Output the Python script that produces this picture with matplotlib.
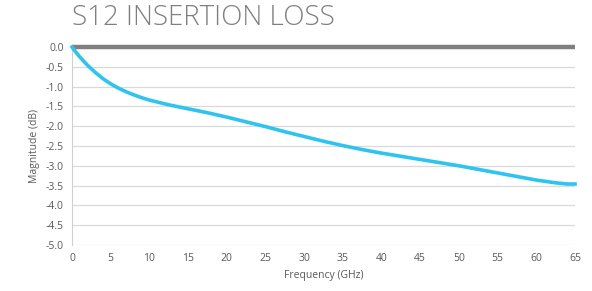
import matplotlib
matplotlib.use('Agg')
import matplotlib.pyplot as plt

# Insertion loss curve
freq_ghz = [0, 0.5, 1, 2, 3, 4, 5, 6, 7, 8, 9, 10, 12.5, 15, 17.5, 20, 22.5, 25, 27.5, 30,
            32.5, 35, 37.5, 40, 42.5, 45, 47.5, 50, 52.5, 55, 57.5, 60, 62.5, 64, 65]
s12_db = [0.0, -0.13, -0.25, -0.46, -0.64, -0.8, -0.93, -1.04, -1.13, -1.21, -1.28,
          -1.34, -1.46, -1.56, -1.66, -1.77, -1.89, -2.01, -2.14, -2.26, -2.38, -2.49,
          -2.59, -2.68, -2.76, -2.84, -2.92, -3.0, -3.09, -3.18, -3.27, -3.36, -3.43,
          -3.46, -3.46]
ref_db = [0.0, 0.0]
ref_freq = [0, 65]

x_ticks = list(range(0, 66, 5))
y_ticks = [0.0, -0.5, -1.0, -1.5, -2.0, -2.5, -3.0, -3.5, -4.0, -4.5, -5.0]

plt.rcParams['font.family'] = ['Open Sans', 'DejaVu Sans']

fig = plt.figure(figsize=(5.92, 2.91), dpi=100)
ax = fig.add_axes([72/592, 1 - 245/291, (575 - 72)/592, (245 - 47)/291])

ax.plot(ref_freq, ref_db, color='#808080', lw=3.2, solid_capstyle='butt', zorder=3, clip_on=False)
ax.plot(freq_ghz, s12_db, color='#2ec4ef', lw=2.6, zorder=4, clip_on=False)

ax.set_xlim(0, 65)
ax.set_ylim(-5.0, 0.0)
ax.set_xticks(x_ticks)
ax.set_yticks(y_ticks)
ax.set_yticklabels([f'{v:.1f}' for v in y_ticks])
ax.grid(axis='y', color='#d9d9d9', lw=0.9)
ax.set_axisbelow(True)
for s in ['top', 'right', 'bottom']:
    ax.spines[s].set_visible(False)
ax.spines['left'].set_color('#d0d0d0')
ax.tick_params(length=0, labelsize=7.5, colors='#595959', pad=6)
ax.set_xlabel('Frequency (GHz)', fontsize=7.5, color='#595959', labelpad=4)
ax.set_ylabel('Magnitude (dB)', fontsize=7.5, color='#595959', labelpad=4)

fig.text(72/592, 1 - 18/291, 'S12 INSERTION LOSS', fontsize=20, color='#7f7f7f',
         fontweight='light', va='center', ha='left')

fig.savefig('out.png', dpi=100)
